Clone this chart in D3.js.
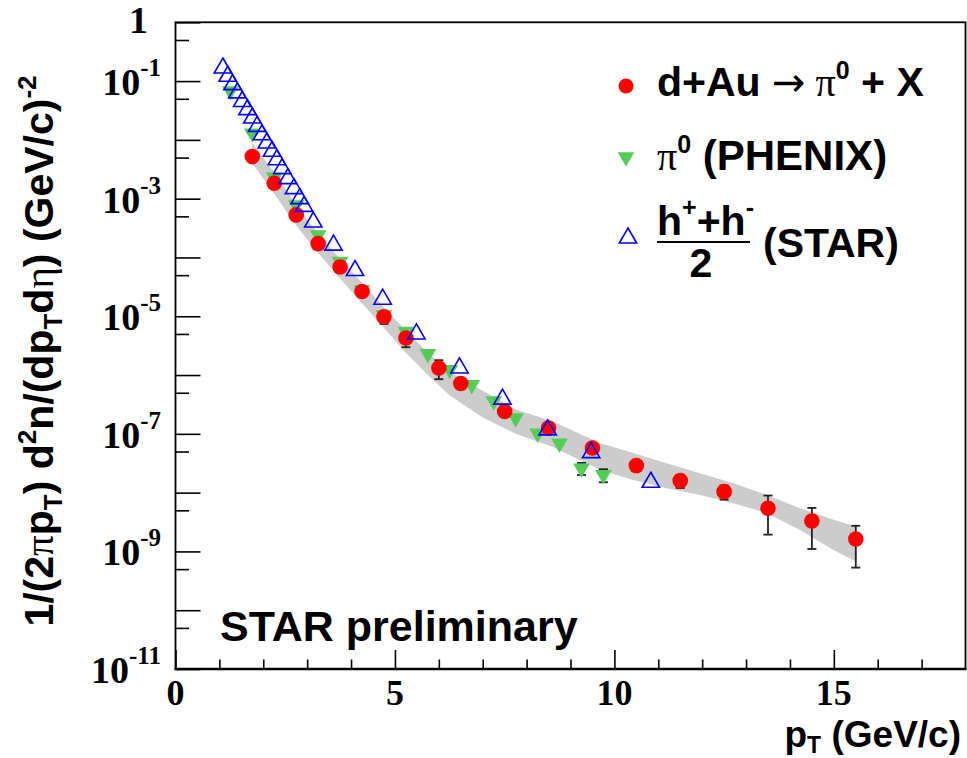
<!DOCTYPE html>
<html>
<head>
<meta charset="utf-8">
<script src="https://cdn.jsdelivr.net/npm/d3@7"></script>
<style>
  html, body { margin: 0; padding: 0; background: #fff; }
  svg { display: block; }
</style>
</head>
<body>
<svg id="chart" width="967" height="758"></svg>
<script>
// ---------------- data ----------------
// STAR d+Au -> pi0 + X
const starPi0Pt   = [1.75, 2.25, 2.75, 3.25, 3.75, 4.25, 4.75, 5.25, 6.0, 6.5, 7.5, 8.5, 9.5, 10.5, 11.5, 12.5, 13.5, 14.5, 15.5];
const starPi0Val  = [5.2e-3, 1.83e-3, 5.3e-4, 1.72e-4, 6.9e-5, 2.63e-5, 9.8e-6, 4.27e-6, 1.32e-6, 7.2e-7, 2.4e-7, 1.26e-7, 5.75e-8, 2.88e-8, 1.6e-8, 1.04e-8, 5.43e-9, 3.3e-9, 1.63e-9];
const starPi0Err  = [0, 0, 0, 0, 0, 0, 2.4e-6, 1.3e-6, 4.7e-7, 0, 0, 0, 0, 0, 4.0e-9, 2.8e-9, 3.5e-9, 2.2e-9, 1.1e-9];

// PHENIX pi0
const phenixPt  = [1.25, 1.75, 2.25, 2.75, 3.25, 3.75, 4.25, 4.75, 5.25, 5.75, 6.25, 6.75, 7.25, 7.75, 8.25, 8.75, 9.25, 9.75];
const phenixVal = [6.8e-2, 1.3e-2, 2.3e-3, 7.8e-4, 2.4e-4, 8.5e-5, 2.8e-5, 1.05e-5, 5.5e-6, 2.3e-6, 1.23e-6, 6.8e-7, 3.6e-7, 1.86e-7, 1.02e-7, 6.9e-8, 2.6e-8, 2.0e-8];
const phenixErr = [0, 0, 0, 0, 0, 0, 0, 0, 0, 0, 0, 0, 0, 0, 0, 0, 6e-9, 5e-9];

// STAR (h+ + h-)/2
const hadPt  = [1.08, 1.19, 1.30, 1.41, 1.52, 1.64, 1.75, 1.86, 1.97, 2.08, 2.20, 2.31, 2.43, 2.56, 2.70, 2.83, 2.93, 3.14, 3.6, 4.09, 4.72, 5.49, 6.47, 7.45, 8.48, 9.47, 10.83];
const hadVal = [1.67e-1, 1.21e-1, 8.7e-2, 6.3e-2, 4.5e-2, 3.27e-2, 2.35e-2, 1.70e-2, 1.22e-2, 8.85e-3, 6.4e-3, 4.6e-3, 3.24e-3, 2.19e-3, 1.48e-3, 1.0e-3, 7.4e-4, 4.0e-4, 1.62e-4, 6.0e-5, 1.95e-5, 5.0e-6, 1.32e-6, 3.9e-7, 1.17e-7, 4.8e-8, 1.5e-8];

// systematic band
const bandPt = [1.75, 2.25, 2.75, 3.25, 3.75, 4.25, 4.75, 5.25, 5.75, 6.25, 7.0, 7.75, 8.6, 9.68, 10.43, 11.19, 11.95, 12.71, 13.47, 14.23, 14.99, 15.52];
const bandHi = [8.9e-3, 2.8e-3, 7.9e-4, 2.5e-4, 9.5e-5, 3.7e-5, 1.41e-5, 5.6e-6, 2.4e-6, 1.12e-6, 5.4e-7, 2.6e-7, 1.62e-7, 6.9e-8, 4.7e-8, 3.16e-8, 2.14e-8, 1.45e-8, 9.1e-9, 5.4e-9, 3.44e-9, 2.64e-9];
const bandLo = [4.0e-3, 1.2e-3, 3.5e-4, 1.2e-4, 4.4e-5, 1.66e-5, 6.3e-6, 2.4e-6, 1.0e-6, 4.5e-7, 1.9e-7, 1.0e-7, 6.0e-8, 2.43e-8, 1.64e-8, 1.19e-8, 9.1e-9, 6.6e-9, 4.5e-9, 2.32e-9, 1.06e-9, 6.7e-10];

const xMajorTicks = [0, 5, 10, 15];
const xMinorTicks = [1, 2, 3, 4, 6, 7, 8, 9, 11, 12, 13, 14, 16, 17];
const yMajorTicks = [1, 1e-1, 1e-2, 1e-3, 1e-4, 1e-5, 1e-6, 1e-7, 1e-8, 1e-9, 1e-10, 1e-11];
const yMinorTicks = [5e-1, 5e-2, 5e-3, 5e-4, 5e-5, 5e-6, 5e-7, 5e-8, 5e-9, 5e-10, 5e-11];
const yLabelExps  = [0, -1, -3, -5, -7, -9, -11];

// ---------------- layout ----------------
const L = 175.5, R = 965.5, T = 22.3, B = 669;
const svg = d3.select("#chart");
const x = d3.scaleLinear().domain([0, 18]).range([L, R]);
const y = d3.scaleLog().domain([1e-11, 1]).range([B, T]);

const colRed = "#ff0000", colGreen = "#55cc55", colBlue = "#0000ff", colBand = "#cccccc";

// band
const bandData = bandPt.map((p, i) => ({p, lo: bandLo[i], hi: bandHi[i]}));
svg.append("path")
  .datum(bandData)
  .attr("fill", colBand)
  .attr("d", d3.area().x(d => x(d.p)).y0(d => y(d.lo)).y1(d => y(d.hi)));

// axes (ticks inward)
const gx = svg.append("g").attr("transform", `translate(0,${B})`);
gx.call(d3.axisBottom(x).tickValues(xMajorTicks).tickSize(-19).tickFormat(""));
const gxm = svg.append("g").attr("transform", `translate(0,${B})`);
gxm.call(d3.axisBottom(x).tickValues(xMinorTicks).tickSize(-9.5).tickFormat(""));
const gy = svg.append("g").attr("transform", `translate(${L},0)`);
gy.call(d3.axisLeft(y).tickValues(yMajorTicks).tickSize(-25).tickFormat(""));
const gym = svg.append("g").attr("transform", `translate(${L},0)`);
gym.call(d3.axisLeft(y).tickValues(yMinorTicks).tickSize(-13.5).tickFormat(""));
svg.selectAll(".domain").remove();
svg.selectAll(".tick line").attr("stroke", "#000").attr("stroke-width", 1.6);

// frame
svg.append("rect").attr("x", L).attr("y", T).attr("width", R - L).attr("height", B - T)
  .attr("fill", "none").attr("stroke", "#000").attr("stroke-width", 1.8);
svg.append("line").attr("x1", L - 1).attr("x2", R + 1).attr("y1", B).attr("y2", B)
  .attr("stroke", "#000").attr("stroke-width", 2.6);

// x tick labels
svg.append("g").selectAll("text").data(xMajorTicks).join("text")
  .attr("x", d => x(d)).attr("y", B + 36)
  .attr("text-anchor", "middle")
  .attr("font-family", "Liberation Serif, Times New Roman, serif")
  .attr("font-weight", "bold").attr("font-size", 36)
  .text(d => d);

// y tick labels
const yl = svg.append("g").selectAll("text").data(yLabelExps).join("text")
  .attr("x", 161).attr("y", d => y(Math.pow(10, d)) + 14)
  .attr("text-anchor", "end")
  .attr("font-family", "Liberation Serif, Times New Roman, serif")
  .attr("font-weight", "bold").attr("font-size", 38);
yl.each(function(d) {
  const t = d3.select(this);
  if (d === 0) { t.attr("x", 148).attr("y", y(1) + 11).text("1"); return; }
  t.append("tspan").text("10");
  t.append("tspan").attr("font-size", 25).attr("dy", -19).text(String(d));
});

// error bars
function errBars(pts, vals, errs) {
  const g = svg.append("g");
  pts.forEach((p, i) => {
    if (!errs[i]) return;
    const lo = Math.max(vals[i] - errs[i], 1e-12), hi = vals[i] + errs[i];
    const cx = x(p);
    g.append("line").attr("x1", cx).attr("x2", cx).attr("y1", y(lo)).attr("y2", y(hi))
      .attr("stroke", "#222").attr("stroke-width", 1.8);
    [lo, hi].forEach(v => g.append("line").attr("x1", cx - 4.5).attr("x2", cx + 4.5)
      .attr("y1", y(v)).attr("y2", y(v)).attr("stroke", "#222").attr("stroke-width", 1.8));
  });
}
errBars(starPi0Pt, starPi0Val, starPi0Err);
errBars(phenixPt, phenixVal, phenixErr);

// markers
const triDown = d3.symbol().type(d3.symbolTriangle).size(120);
const triUp = d3.symbol().type(d3.symbolTriangle).size(130);

svg.append("g").selectAll("path").data(phenixPt.map((p, i) => [p, phenixVal[i]])).join("path")
  .attr("d", triDown)
  .attr("transform", d => `translate(${x(d[0])},${y(d[1])}) rotate(180)`)
  .attr("fill", colGreen);

svg.append("g").selectAll("circle").data(starPi0Pt.map((p, i) => [p, starPi0Val[i]])).join("circle")
  .attr("cx", d => x(d[0])).attr("cy", d => y(d[1])).attr("r", 7.8)
  .attr("fill", colRed);

svg.append("g").selectAll("path").data(hadPt.map((p, i) => [p, hadVal[i]])).join("path")
  .attr("d", triUp)
  .attr("transform", d => `translate(${x(d[0])},${y(d[1])})`)
  .attr("fill", "none").attr("stroke", colBlue).attr("stroke-width", 1.6);

// legend
const sans = "Liberation Sans, Arial, Helvetica, sans-serif";
const sym = "Liberation Serif, DejaVu Serif, serif";
const lg = svg.append("g");
lg.append("circle").attr("cx", 626).attr("cy", 86).attr("r", 7.5).attr("fill", colRed);
lg.append("path").attr("d", triDown).attr("transform", "translate(626,157) rotate(180)").attr("fill", colGreen);
lg.append("path").attr("d", triUp).attr("transform", "translate(628,238)").attr("fill", "none").attr("stroke", colBlue).attr("stroke-width", 1.6);

const t1 = lg.append("text").attr("x", 657).attr("y", 96).attr("font-family", sans).attr("font-weight", "bold").attr("font-size", 41);
t1.append("tspan").text("d+Au ");
t1.append("tspan").attr("font-family", "DejaVu Sans, sans-serif").attr("font-weight", "normal").attr("font-size", 40).text("→");
t1.append("tspan").attr("font-family", sym).attr("font-weight", "normal").attr("font-size", 40).text(" π");
t1.append("tspan").attr("font-size", 25).attr("dy", -17).text("0");
t1.append("tspan").attr("dy", 17).text(" + X");

const t2 = lg.append("text").attr("x", 657).attr("y", 170).attr("font-family", sans).attr("font-weight", "bold").attr("font-size", 42);
t2.append("tspan").attr("font-family", sym).attr("font-weight", "normal").attr("font-size", 40).text("π");
t2.append("tspan").attr("font-size", 25).attr("dy", -17).text("0");
t2.append("tspan").attr("dy", 17).text(" (PHENIX)");

const t3 = lg.append("text").attr("x", 657).attr("y", 235).attr("font-family", sans).attr("font-weight", "bold").attr("font-size", 41);
t3.append("tspan").text("h");
t3.append("tspan").attr("font-size", 25).attr("dy", -19).text("+");
t3.append("tspan").attr("dy", 19).text("+h");
t3.append("tspan").attr("font-size", 25).attr("dy", -19).text("-");
lg.append("line").attr("x1", 657).attr("x2", 750).attr("y1", 242).attr("y2", 242).attr("stroke", "#000").attr("stroke-width", 2);
lg.append("text").attr("x", 701).attr("y", 277).attr("text-anchor", "middle").attr("font-family", sans).attr("font-weight", "bold").attr("font-size", 41).text("2");
lg.append("text").attr("x", 763).attr("y", 257).attr("font-family", sans).attr("font-weight", "bold").attr("font-size", 41).text("(STAR)");

// STAR preliminary
svg.append("text").attr("x", 220).attr("y", 641).attr("font-family", sans).attr("font-weight", "bold").attr("font-size", 43).text("STAR preliminary");

// x title
const xt = svg.append("text").attr("x", 961).attr("y", 747).attr("text-anchor", "end")
  .attr("font-family", sans).attr("font-weight", "bold").attr("font-size", 37);
xt.append("tspan").text("p");
xt.append("tspan").attr("font-size", 23).attr("dy", 6).text("T");
xt.append("tspan").attr("dy", -6).text(" (GeV/c)");

// y title
const ytl = svg.append("text").attr("transform", "translate(53,351) rotate(-90)").attr("text-anchor", "middle")
  .attr("font-family", sans).attr("font-weight", "bold").attr("font-size", 41);
ytl.append("tspan").text("1/(2");
ytl.append("tspan").attr("font-family", sym).attr("font-weight", "normal").text("π");
ytl.append("tspan").text("p");
ytl.append("tspan").attr("font-size", 26).attr("dy", 9).text("T");
ytl.append("tspan").attr("dy", -9).text(") d");
ytl.append("tspan").attr("font-size", 26).attr("dy", -17).text("2");
ytl.append("tspan").attr("dy", 17).text("n/(dp");
ytl.append("tspan").attr("font-size", 26).attr("dy", 9).text("T");
ytl.append("tspan").attr("dy", -9).text("d");
ytl.append("tspan").attr("font-family", sym).attr("font-weight", "normal").text("η");
ytl.append("tspan").text(") (GeV/c)");
ytl.append("tspan").attr("font-size", 26).attr("dy", -17).text("-2");
</script>
</body>
</html>
